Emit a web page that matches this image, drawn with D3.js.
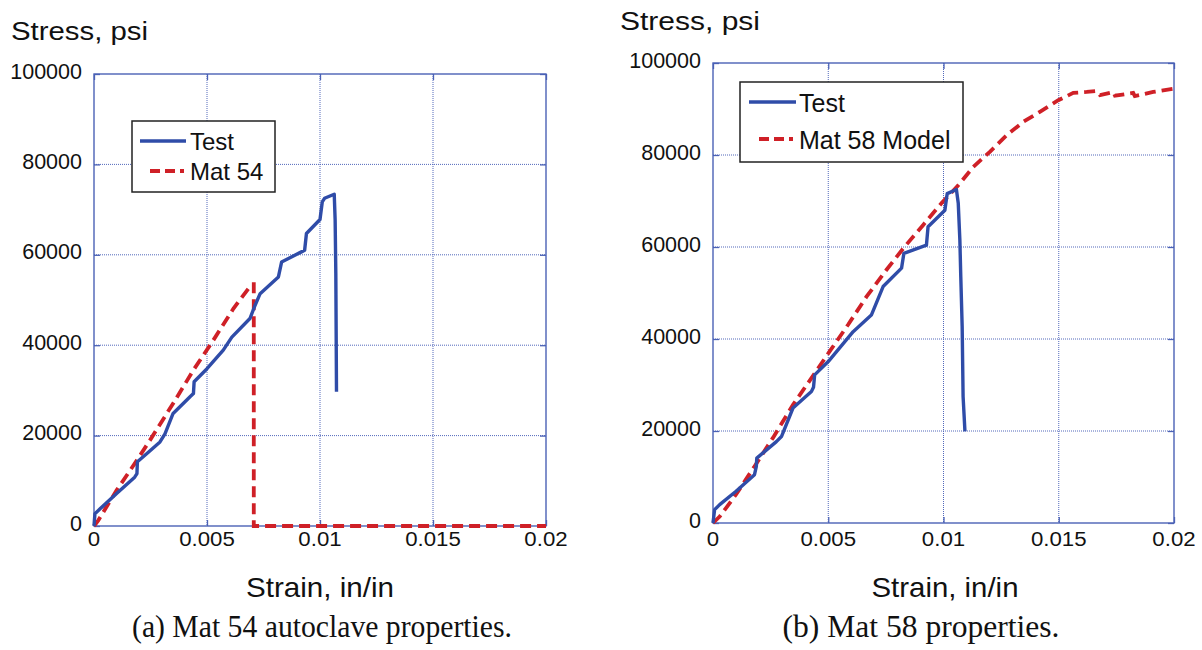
<!DOCTYPE html>
<html><head><meta charset="utf-8">
<script src="https://cdn.jsdelivr.net/npm/d3@7"></script>
<style>body{margin:0;background:#fff}svg{display:block}</style>
</head><body>
<svg id="c" width="1202" height="650"></svg>
<script>
// ---------- data ----------
const xTicks = [0, 0.005, 0.01, 0.015, 0.02];
const xTickLabels = ["0", "0.005", "0.01", "0.015", "0.02"];
const yTicks = [0, 20000, 40000, 60000, 80000, 100000];
const yTickLabels = ["0", "20000", "40000", "60000", "80000", "100000"];

const testA = [[0,0],[0.00004,2700],[0.00027,3800],[0.001,7200],[0.0018,10800],[0.0019,11600],[0.00192,14200],[0.00233,16000],[0.00292,18600],[0.00314,20400],[0.0035,24900],[0.00425,28600],[0.0044,29300],[0.00443,31900],[0.005,34800],[0.00572,38900],[0.0061,41800],[0.0069,45900],[0.0071,48500],[0.00735,51400],[0.00816,55100],[0.0083,58400],[0.0092,60700],[0.00932,61000],[0.0094,64700],[0.01,67800],[0.0101,71700],[0.0102,72500],[0.01063,73400],[0.01067,67700],[0.0107,55900],[0.01073,29700]];
const mat54 = [[0,0],[0.00019,1250],[0.001,7900],[0.0018,13800],[0.00248,19000],[0.0035,27100],[0.0044,34500],[0.00528,41100],[0.00617,48100],[0.00698,53500],[0.00707,53500],[0.00707,0],[0.02,0]];

const testB = [[0,0],[0.00007,2900],[0.00029,4000],[0.001,6900],[0.0018,10500],[0.00188,12300],[0.0019,14100],[0.00275,17700],[0.00297,18800],[0.00347,25000],[0.00427,28600],[0.00436,29500],[0.00441,32200],[0.005,35100],[0.00608,41600],[0.00687,45200],[0.00738,51400],[0.00818,55400],[0.00828,58600],[0.00926,60400],[0.00933,64400],[0.01006,68000],[0.01016,71600],[0.01056,72500],[0.01064,69500],[0.01071,61500],[0.01075,53500],[0.01081,42700],[0.01085,27500],[0.01093,19900]];
const mat58 = [[0,0],[0.00029,1400],[0.001,6200],[0.0018,12300],[0.0026,18500],[0.00347,25700],[0.00427,31500],[0.00506,37300],[0.00586,43100],[0.00666,49200],[0.00752,55000],[0.00832,60100],[0.00912,64800],[0.00991,69500],[0.01064,73400],[0.01129,77400],[0.01201,80700],[0.01274,84300],[0.01346,87200],[0.01418,89400],[0.01498,91900],[0.01563,93500],[0.01621,93700],[0.01664,93900],[0.01679,93000],[0.01737,93700],[0.01744,92900],[0.01823,93500],[0.0183,92800],[0.0191,93700],[0.01997,94400]];

const panels = [
  {x0:94, x1:546, yT:74, yB:526, test:testA, model:mat54, names:["Test","Mat 54"],
   legend:{x:132,y:121,w:143,h:71,line1:[140,186,141],line2:[150,184,171],tx:190,b1:150,b2:180,fs:24},
   ylab:{x:11,y:40,w:137}, xlab:{cx:320,y:597,w:148}, cap:{cx:322,y:637,w:380,text:"(a) Mat 54 autoclave properties."}},
  {x0:713, x1:1174, yT:63, yB:523, test:testB, model:mat58, names:["Test","Mat 58 Model"],
   legend:{x:740,y:82,w:223,h:80,line1:[749,796,102],line2:[759,793,139],tx:799,b1:112,b2:149,fs:25},
   ylab:{x:620,y:30,w:140}, xlab:{cx:945,y:597,w:147}, cap:{cx:921,y:637,w:277,text:"(b) Mat 58 properties."}}
];

const BLUE = "#2f4ca8", RED = "#cf2027", FRAME = "#4b62b6", GRID = "#5268bb";
const SANS = "'Liberation Sans', Arial, Helvetica, sans-serif";
const SERIF = "'Liberation Serif', 'Times New Roman', Times, serif";
const svg = d3.select("#c");

function fitText(sel, w){ sel.attr("textLength", w).attr("lengthAdjust","spacingAndGlyphs"); }

panels.forEach(p => {
  const x = d3.scaleLinear().domain([0,0.02]).range([p.x0,p.x1]);
  const y = d3.scaleLinear().domain([0,100000]).range([p.yB,p.yT]);
  const g = svg.append("g");

  // grid
  g.selectAll(".gx").data(xTicks.slice(1,-1)).join("line")
    .attr("x1",d=>x(d)).attr("x2",d=>x(d)).attr("y1",p.yT).attr("y2",p.yB)
    .attr("stroke",GRID).attr("stroke-width",1).attr("stroke-dasharray","1,1");
  g.selectAll(".gy").data(yTicks.slice(1,-1)).join("line")
    .attr("y1",d=>y(d)).attr("y2",d=>y(d)).attr("x1",p.x0).attr("x2",p.x1)
    .attr("stroke",GRID).attr("stroke-width",1).attr("stroke-dasharray","1,1");

  // inner ticks via axes
  const tl = 6;
  const styleAxis = a=>{a.select(".domain").remove(); a.selectAll("line").attr("stroke",FRAME).attr("stroke-width",1.3);};
  g.append("g").attr("transform",`translate(0,${p.yB})`)
    .call(d3.axisTop(x).tickValues(xTicks).tickSize(tl).tickFormat("")).call(styleAxis);
  g.append("g").attr("transform",`translate(0,${p.yT})`)
    .call(d3.axisBottom(x).tickValues(xTicks).tickSize(tl).tickFormat("")).call(styleAxis);
  g.append("g").attr("transform",`translate(${p.x0},0)`)
    .call(d3.axisRight(y).tickValues(yTicks).tickSize(tl).tickFormat("")).call(styleAxis);
  g.append("g").attr("transform",`translate(${p.x1},0)`)
    .call(d3.axisLeft(y).tickValues(yTicks).tickSize(tl).tickFormat("")).call(styleAxis);

  // frame
  g.append("rect").attr("x",p.x0).attr("y",p.yT).attr("width",p.x1-p.x0).attr("height",p.yB-p.yT)
    .attr("fill","none").attr("stroke",FRAME).attr("stroke-width",1.4);

  // tick labels
  g.selectAll(".yl").data(yTicks).join("text")
    .attr("x",p.x0-12).attr("y",(d)=>y(d)-3).attr("dy","0.35em")
    .attr("text-anchor","end").attr("font-family",SANS).attr("font-size",21.5).attr("fill","#111")
    .text((d,i)=>yTickLabels[i]);
  g.selectAll(".xl").data(xTicks).join("text")
    .attr("x",d=>x(d)).attr("y",546).attr("text-anchor","middle")
    .attr("font-family",SANS).attr("font-size",19.5).attr("fill","#111")
    .text((d,i)=>xTickLabels[i])
    .each(function(){ const w=this.getComputedTextLength(); d3.select(this).attr("textLength",w*1.14).attr("lengthAdjust","spacingAndGlyphs"); });

  // axis titles
  g.append("text").attr("x",p.ylab.x).attr("y",p.ylab.y).attr("font-family",SANS).attr("font-size",25)
    .attr("fill","#111").text("Stress, psi").call(fitText,p.ylab.w);
  g.append("text").attr("x",p.xlab.cx-p.xlab.w/2).attr("y",p.xlab.y).attr("font-family",SANS).attr("font-size",28)
    .attr("fill","#111").text("Strain, in/in").call(fitText,p.xlab.w);
  g.append("text").attr("x",p.cap.cx-p.cap.w/2).attr("y",p.cap.y).attr("font-family",SERIF).attr("font-size",32)
    .attr("fill","#111").text(p.cap.text).call(fitText,p.cap.w);

  // lines
  const line = d3.line().x(d=>x(d[0])).y(d=>y(d[1]));
  g.append("path").datum(p.model).attr("d",line).attr("fill","none").attr("stroke",RED)
    .attr("stroke-width",3.8).attr("stroke-dasharray","11,6");
  g.append("path").datum(p.test).attr("d",line).attr("fill","none").attr("stroke",BLUE)
    .attr("stroke-width",3.4).attr("stroke-linejoin","round");

  // legend
  const L = p.legend;
  g.append("rect").attr("x",L.x).attr("y",L.y).attr("width",L.w).attr("height",L.h)
    .attr("fill","#fff").attr("stroke","#222").attr("stroke-width",1.5);
  g.append("line").attr("x1",L.line1[0]).attr("x2",L.line1[1]).attr("y1",L.line1[2]).attr("y2",L.line1[2])
    .attr("stroke",BLUE).attr("stroke-width",3.4);
  g.append("line").attr("x1",L.line2[0]).attr("x2",L.line2[1]).attr("y1",L.line2[2]).attr("y2",L.line2[2])
    .attr("stroke",RED).attr("stroke-width",3.8).attr("stroke-dasharray","10,5");
  g.append("text").attr("x",L.tx).attr("y",L.b1).attr("font-family",SANS).attr("font-size",L.fs).attr("fill","#111").text(p.names[0]);
  g.append("text").attr("x",L.tx).attr("y",L.b2).attr("font-family",SANS).attr("font-size",L.fs).attr("fill","#111").text(p.names[1]);
});
</script>
</body></html>
